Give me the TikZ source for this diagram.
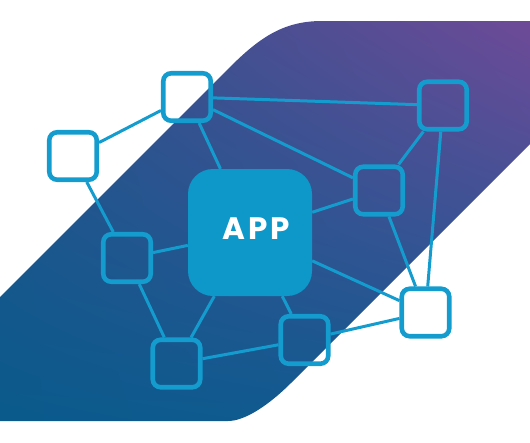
\documentclass[tikz,border=0pt]{standalone}
\usepackage{fontspec}
\usetikzlibrary{shadings}
\newfontfamily\appfont[LetterSpace=9]{Poppins}
\definecolor{linkblue}{RGB}{20,156,206}
\definecolor{appfill}{RGB}{14,152,202}
\definecolor{bandll}{RGB}{10,90,140}
\definecolor{bandlr}{RGB}{19,90,146}
\definecolor{bandul}{RGB}{40,83,140}
\definecolor{bandur}{RGB}{110,74,152}
\begin{document}
\begin{tikzpicture}[x=1pt, y=-1pt,
    nodebox/.style={rectangle, draw=linkblue, line width=4.6pt, minimum size=47.5pt, inner sep=0pt, rounded corners=8pt},
    appbox/.style={rectangle, fill=appfill, minimum width=124pt, minimum height=127pt, rounded corners=25pt},
    link/.style={draw=linkblue, line width=3pt}
]
\useasboundingbox (0,0) rectangle (530,442);

% Background band
\shade[lower left=bandll, lower right=bandlr, upper left=bandul, upper right=bandur]
  (0,297) -- (228,69) .. controls (258,39) and (282,21) .. (322,21) -- (530,21) -- (530,144)
  -- (291,383) .. controls (269,405) and (245,421) .. (228,421) -- (0,421) -- cycle;

% App
\node[appbox] (app) at (250,232.5) {};
\node[text=white, inner sep=0pt, font=\appfont\bfseries\fontsize{31}{31}\selectfont] (applabel) at (256,228.7) {APP};

% Network nodes
\node[nodebox] (top) at (187,97) {};
\node[nodebox] (left) at (73,156) {};
\node[nodebox] (topright) at (443,105.5) {};
\node[nodebox] (right) at (379,190.5) {};
\node[nodebox] (midleft) at (127,258) {};
\node[nodebox] (lowright) at (425.5,312.5) {};
\node[nodebox] (lowmid) at (304.5,340) {};
\node[nodebox] (bottom) at (176.5,363.5) {};

% Links
\foreach \a/\b in {top/left, top/topright, top/right, top/app, left/midleft, midleft/app,
    midleft/bottom, bottom/app, bottom/lowmid, lowmid/app, lowmid/lowright, app/lowright,
    app/right, right/topright, right/lowright, topright/lowright}
  \draw[link] (\a) -- (\b);

\end{tikzpicture}
\end{document}
